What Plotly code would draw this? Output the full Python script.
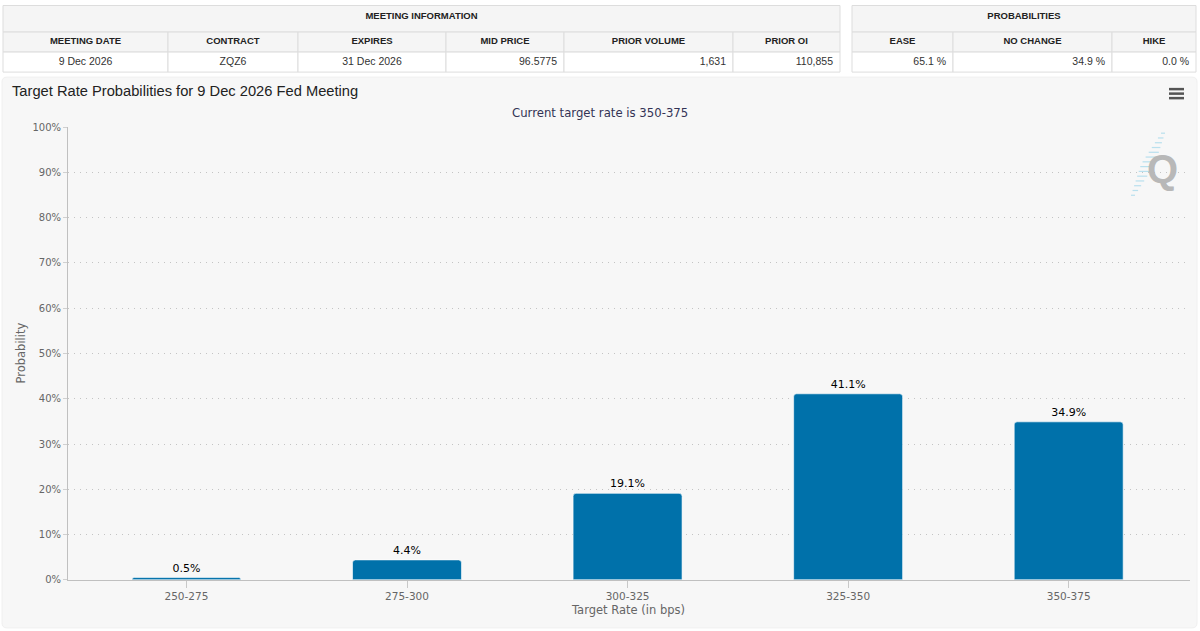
import plotly.graph_objects as go

# ---------------- data ----------------
categories = ["250-275", "275-300", "300-325", "325-350", "350-375"]
probabilities = [0.5, 4.4, 19.1, 41.1, 34.9]
y_tick_values = [0, 10, 20, 30, 40, 50, 60, 70, 80, 90, 100]
y_tick_labels = ["0%", "10%", "20%", "30%", "40%", "50%", "60%", "70%", "80%", "90%", "100%"]

meeting_title = "MEETING INFORMATION"
meeting_cols = ["MEETING DATE", "CONTRACT", "EXPIRES", "MID PRICE", "PRIOR VOLUME", "PRIOR OI"]
meeting_vals = ["9 Dec 2026", "ZQZ6", "31 Dec 2026", "96.5775", "1,631", "110,855"]
meeting_align = ["center", "center", "center", "right", "right", "right"]

prob_title = "PROBABILITIES"
prob_cols = ["EASE", "NO CHANGE", "HIKE"]
prob_vals = ["65.1 %", "34.9 %", "0.0 %"]
prob_align = ["right", "right", "right"]

chart_title = "Target Rate Probabilities for 9 Dec 2026 Fed Meeting"
chart_subtitle = "Current target rate is 350-375"
x_title = "Target Rate (in bps)"
y_title = "Probability"

# ---------------- layout constants (pixels of the final 1200x631 picture) ----------------
W = 1200
H_FIG = 637          # figure height
Y_OFF = 6            # observed vertical offset of the page in the photo
Y_SCALE = 631 / 643  # observed vertical scale of the page in the photo
MEETING_X0 = 3
MEETING_COL_W = [165, 130, 148, 118, 169, 107]
PROB_X0 = 852
PROB_COL_W = [101, 159, 84]
ROW_EDGES = [3, 33, 53, 73]      # title row / column-name row / value row
CELL_PAD = 7


def px(x):
    return x / W


def py(y):
    return 1 - ((y - Y_OFF) / Y_SCALE) / H_FIG


BAR_COLOR = "#0071aa"
LINE_COLOR = "#dddddd"
HEAD_FILL = "#f5f5f5"
TABLE_FONT = "Liberation Sans, Arial, sans-serif"
CHART_FONT = "DejaVu Sans, Verdana, sans-serif"

fig = go.Figure()

# ---------------- bars ----------------
fig.add_trace(go.Bar(
    x=categories,
    y=probabilities,
    width=0.494,
    marker=dict(color=BAR_COLOR, line=dict(color="#ffffff", width=0.6), cornerradius=3),
    text=[f"{v:.1f}%" for v in probabilities],
    textposition="outside",
    textfont=dict(family=CHART_FONT, size=11, color="#000000"),
    cliponaxis=False,
    hoverinfo="x+y",
    showlegend=False,
))

# ---------------- panel background (rounded) ----------------
shapes = []
r = 5
x0p, x1p, y0p, y1p = 2, 1197, 78, 628
path = (f"M {px(x0p + r)},{py(y0p)} L {px(x1p - r)},{py(y0p)} Q {px(x1p)},{py(y0p)} {px(x1p)},{py(y0p + r)} "
        f"L {px(x1p)},{py(y1p - r)} Q {px(x1p)},{py(y1p)} {px(x1p - r)},{py(y1p)} "
        f"L {px(x0p + r)},{py(y1p)} Q {px(x0p)},{py(y1p)} {px(x0p)},{py(y1p - r)} "
        f"L {px(x0p)},{py(y0p + r)} Q {px(x0p)},{py(y0p)} {px(x0p + r)},{py(y0p)} Z")
shapes.append(dict(type="path", path=path, xref="paper", yref="paper",
                   fillcolor="#f7f7f7", line=dict(color="#f0f0f0", width=1), layer="below"))

# ---------------- tables (drawn on a pixel-unit helper axis pair x2/y2) ----------------
Y2_TOP = Y_OFF
Y2_BOTTOM = 76
head_x, head_y, head_t = [], [], []
cen_x, cen_y, cen_t = [], [], []
rgt_x, rgt_y, rgt_t = [], [], []


def build_table(x0, widths, title, cols, vals, aligns):
    edges = [x0]
    for w in widths:
        edges.append(edges[-1] + w)
    ya, yb, yc, yd = ROW_EDGES
    ya_draw = max(ya, Y2_TOP + 0.5)
    shapes.append(dict(type="rect", xref="x2", yref="y2", x0=edges[0], x1=edges[-1], y0=ya_draw, y1=yb,
                       fillcolor=HEAD_FILL, line=dict(color=LINE_COLOR, width=1), layer="below"))
    head_x.append((edges[0] + edges[-1]) / 2)
    head_y.append((ya + yb) / 2)
    head_t.append(f"<b>{title}</b>")
    for i, (c, v, a) in enumerate(zip(cols, vals, aligns)):
        xl, xr = edges[i], edges[i + 1]
        shapes.append(dict(type="rect", xref="x2", yref="y2", x0=xl, x1=xr, y0=yb, y1=yc,
                           fillcolor=HEAD_FILL, line=dict(color=LINE_COLOR, width=1), layer="below"))
        shapes.append(dict(type="rect", xref="x2", yref="y2", x0=xl, x1=xr, y0=yc, y1=yd,
                           fillcolor="#ffffff", line=dict(color=LINE_COLOR, width=1), layer="below"))
        head_x.append((xl + xr) / 2)
        head_y.append((yb + yc) / 2)
        head_t.append(f"<b>{c}</b>")
        if a == "right":
            rgt_x.append(xr - CELL_PAD)
            rgt_y.append((yc + yd) / 2)
            rgt_t.append(v)
        else:
            cen_x.append((xl + xr) / 2)
            cen_y.append((yc + yd) / 2)
            cen_t.append(v)


build_table(MEETING_X0, MEETING_COL_W, meeting_title, meeting_cols, meeting_vals, meeting_align)
build_table(PROB_X0, PROB_COL_W, prob_title, prob_cols, prob_vals, prob_align)

for xs, ys, ts, pos, fsize, col in [
    (head_x, head_y, head_t, "middle center", 9.5, "#222222"),
    (cen_x, cen_y, cen_t, "middle center", 10.5, "#333333"),
    (rgt_x, rgt_y, rgt_t, "middle left", 10.5, "#333333"),
]:
    fig.add_trace(go.Scatter(
        x=xs, y=ys, text=ts, mode="text", textposition=pos,
        textfont=dict(family=TABLE_FONT, size=fsize, color=col),
        marker=dict(size=1), xaxis="x2", yaxis="y2",
        hoverinfo="skip", showlegend=False, cliponaxis=False,
    ))

# hamburger menu icon
for yy in (90, 94.5, 99):
    shapes.append(dict(type="line", xref="paper", yref="paper",
                       x0=px(1169), x1=px(1184), y0=py(yy), y1=py(yy),
                       line=dict(color="#555555", width=2.5)))

# watermark dashes (decorative logo)
for i in range(14):
    t = i / 13
    cx = 1163 - t * 30
    cy = 134 + t * 62
    half = 2 + 5 * (1 - abs(t - 0.5) * 2)
    shapes.append(dict(type="line", xref="paper", yref="paper",
                       x0=px(cx - half), x1=px(cx + half), y0=py(cy), y1=py(cy),
                       line=dict(color="#b9e0ee", width=1.2)))

annotations = [
    dict(text=chart_title, x=px(10), y=py(92), xref="paper", yref="paper",
         xanchor="left", yanchor="middle", showarrow=False,
         font=dict(family=TABLE_FONT, size=14.7, color="#222222")),
    dict(text=chart_subtitle, x=px(600), y=py(114), xref="paper", yref="paper",
         xanchor="center", yanchor="middle", showarrow=False,
         font=dict(family=CHART_FONT, size=11.7, color="#333355")),
    dict(text=x_title, x=px(628), y=py(610), xref="paper", yref="paper",
         xanchor="center", yanchor="middle", showarrow=False,
         font=dict(family=CHART_FONT, size=11.5, color="#666666")),
    dict(text=y_title, x=px(21), y=py(354), xref="paper", yref="paper",
         xanchor="center", yanchor="middle", showarrow=False, textangle=-90,
         font=dict(family=CHART_FONT, size=11.5, color="#666666")),
    dict(text="<b>Q</b>", x=px(1162), y=py(170), xref="paper", yref="paper",
         xanchor="center", yanchor="middle", showarrow=False,
         font=dict(family=TABLE_FONT, size=40, color="#b8b8b8")),
]

fig.update_layout(
    width=W, height=H_FIG,
    margin=dict(l=0, r=0, t=0, b=0, pad=0),
    paper_bgcolor="#ffffff",
    plot_bgcolor="rgba(0,0,0,0)",
    shapes=shapes,
    annotations=annotations,
    xaxis=dict(
        domain=[px(68), px(1190)],
        range=[-0.537, 4.55],
        type="category",
        showline=True, linecolor="#c0c0c0", linewidth=1,
        ticks="outside", ticklen=7, tickcolor="#c8c8c8",
        tickfont=dict(family=CHART_FONT, size=10.5, color="#666666"),
        showgrid=False, zeroline=False, fixedrange=True,
    ),
    yaxis=dict(
        domain=[py(580), py(128)],
        range=[0, 100],
        tickvals=y_tick_values, ticktext=y_tick_labels,
        showline=True, linecolor="#c0c0c0", linewidth=1,
        ticks="outside", ticklen=4, tickcolor="#d0d0d0",
        tickfont=dict(family=CHART_FONT, size=10, color="#666666"),
        showgrid=True, gridcolor="#c4c4c4", griddash="1px,5px", gridwidth=1,
        zeroline=False, fixedrange=True,
    ),
    xaxis2=dict(domain=[0, 1], range=[0, W], visible=False, fixedrange=True, anchor="y2"),
    yaxis2=dict(domain=[py(Y2_BOTTOM), 1], range=[Y2_BOTTOM, Y2_TOP], visible=False,
                fixedrange=True, anchor="x2"),
)

fig.write_html(
    "out.html", config={"displayModeBar": False},
    post_script=("document.documentElement.style.margin='0';document.documentElement.style.padding='0';"
                 "document.documentElement.style.overflow='hidden';"
                 "document.body.style.margin='0';document.body.style.padding='0';"
                 "document.body.style.overflow='hidden';"),
)
